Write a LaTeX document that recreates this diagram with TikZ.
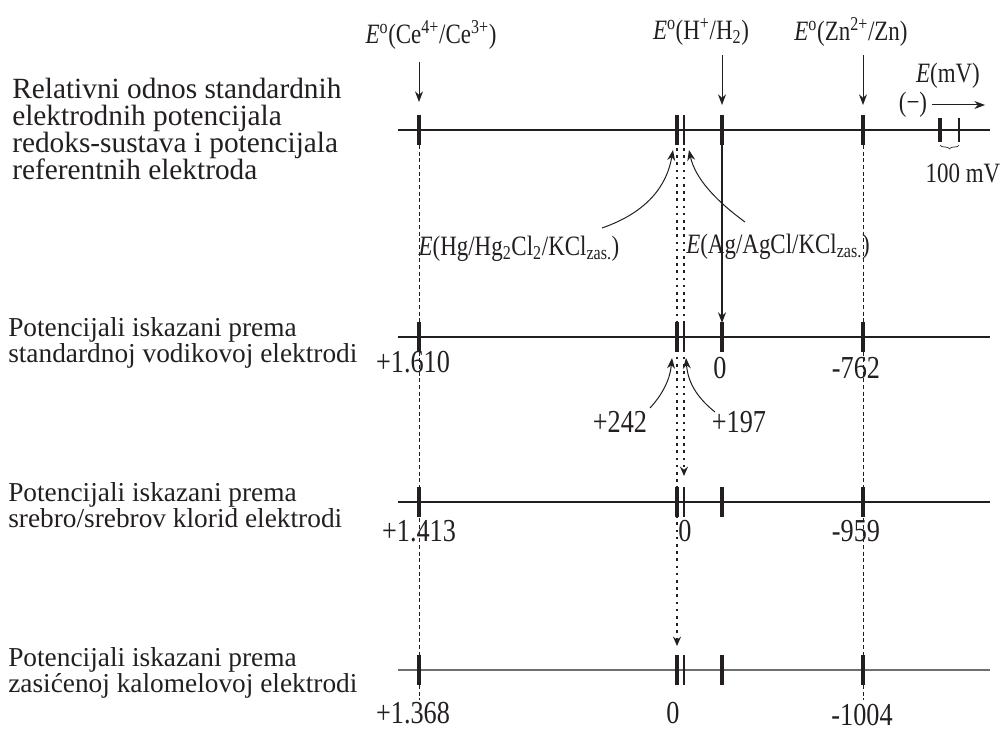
\documentclass[tikz,border=0pt]{standalone}
\usepackage{fontspec}
\setmainfont{Liberation Serif}
\newfontfamily\narrowfont[FakeStretch=0.82]{Liberation Serif}
\usepackage{xcolor}
\usetikzlibrary{positioning, arrows.meta, calc, decorations.pathreplacing}
\definecolor{inkdark}{HTML}{231F20}
\definecolor{axisgray}{HTML}{6D6E70}

\begin{document}
\begin{tikzpicture}[x=0.75pt, y=-0.75pt,
    axis/.style={line width=1.6pt},
    tick/.style={line width=2.8pt, draw=inkdark},
    thintick/.style={line width=1.7pt, draw=inkdark},
    guide/.style={draw=inkdark, line width=0.6pt, dash pattern=on 3pt off 2pt},
    dotline/.style={draw=inkdark, line width=2pt, dash pattern=on 2pt off 3.4pt,
                    -{Stealth[length=7pt, width=6pt]}},
    pointer/.style={draw=inkdark, line width=0.75pt, -{Stealth[length=8pt, width=6pt]}},
    rowtext/.style={anchor=west, align=left, inner sep=0pt, text=inkdark,
                    font=\fontsize{20.5}{19.5}\selectfont},
    lab/.style={inner sep=0pt, text=inkdark, font=\narrowfont\fontsize{21}{21}\selectfont},
    num/.style={inner sep=0pt, text=inkdark, font=\narrowfont\fontsize{24}{24}\selectfont}]

  \useasboundingbox (0,0) rectangle (1003,731);

  \foreach \row/\y/\c in {1/130/inkdark, 2/337/inkdark, 3/502/inkdark, 4/670/axisgray}{
    \coordinate (ce\row) at (419,\y);
    \coordinate (hg\row) at (677,\y);
    \coordinate (ag\row) at (684,\y);
    \coordinate (h\row)  at (722,\y);
    \coordinate (zn\row) at (863,\y);
    \draw[axis, draw=\c] (398,\y) -- (990,\y);
    \foreach \p in {ce,hg,h,zn}
      \draw[tick] ($(\p\row)+(0,-15)$) -- ($(\p\row)+(0,15)$);
    \draw[thintick] ($(ag\row)+(0,-15)$) -- ($(ag\row)+(0,15)$);
  }

  \node[rowtext, font=\fontsize{22}{20.2}\selectfont] (relnote) at (12,129) {Relativni odnos standardnih\\elektrodnih potencijala\\redoks-sustava i potencijala\\referentnih elektroda};
  \node[rowtext] (shenote) at (8,343) {Potencijali iskazani prema\\standardnoj vodikovoj elektrodi};
  \node[rowtext] (agnote)  at (8,505) {Potencijali iskazani prema\\srebro/srebrov klorid elektrodi};
  \node[rowtext] (scenote) at (8,673) {Potencijali iskazani prema\\zasićenoj kalomelovoj elektrodi};

  \node[lab] (celab) at (431,35) {\textit{E}\textsuperscript{o}(Ce\textsuperscript{4+}/Ce\textsuperscript{3+})};
  \node[lab] (hlab)  at (701,32) {\textit{E}\textsuperscript{o}(H\textsuperscript{+}/H\textsubscript{2})};
  \node[lab] (znlab) at (851,32) {\textit{E}\textsuperscript{o}(Zn\textsuperscript{2+}/Zn)};
  \draw[pointer] ($(ce1)+(0,-68)$) -- ($(ce1)+(0,-28)$);
  \draw[pointer] ($(h1)+(0,-75)$) -- ($(h1)+(0,-25)$);
  \draw[pointer] ($(zn1)+(0,-75)$) -- ($(zn1)+(0,-25)$);

  \node[lab] (emv) at (948,76) {\textit{E}(mV)};
  \node[lab] (minus) at (913,105) {(−)};
  \coordinate (emvend) at (985,105);
  \draw[pointer] ($(minus.east)+(5,0)$) -- (emvend);
  \coordinate (sca) at (940,130);
  \coordinate (scb) at (959,130);
  \draw[tick] ($(sca)+(0,-12)$) -- ($(sca)+(0,12)$);
  \draw[thintick] ($(scb)+(0,-12)$) -- ($(scb)+(0,12)$);
  \draw[draw=inkdark, line width=0.5pt, decorate, decoration={brace, mirror, amplitude=3pt}]
    ($(sca)+(0,15)$) -- ($(scb)+(0,15)$);
  \node[lab] (scale) at (963,173) {100 mV};

  \draw[guide] ($(ce1)+(0,15)$) -- (419,700);
  \draw[guide] ($(zn1)+(0,15)$) -- (863,700);
  \draw[dotline] ($(hg1)+(0,18)$) -- ($(hg4)+(0,-24)$);
  \draw[dotline] ($(ag1)+(0,18)$) -- ($(ag3)+(0,-26)$);
  \draw[pointer, line width=1pt] ($(h1)+(0,15)$) -- ($(h2)+(0,-14)$);

  \node[lab] (hglab) at (519,249) {\textit{E}(Hg/Hg\textsubscript{2}Cl\textsubscript{2}/KCl\textsubscript{zas.})};
  \node[lab] (aglab) at (778,247) {\textit{E}(Ag/AgCl/KCl\textsubscript{zas.})};
  \draw[pointer] (602,228) .. controls (648,212) and (667,185) .. ($(hg1)+(-4,20)$);
  \draw[pointer] (745,222) .. controls (715,200) and (695,178) .. ($(ag1)+(5,20)$);

  \node[num] at (413,362) {+1.610};
  \node[num] at (720,368) {0};
  \node[num] at (856,368) {-762};
  \node[num] (p242) at (620,422) {+242};
  \node[num] (p197) at (739,422) {+197};
  \draw[pointer] (650,408) .. controls (662,395) and (670,380) .. ($(hg2)+(-5,21)$);
  \draw[pointer] (715,412) .. controls (700,400) and (688,385) .. ($(ag2)+(2,21)$);

  \node[num] at (419,531) {+1.413};
  \node[num] at (685,531) {0};
  \node[num] at (856,531) {-959};

  \node[num] at (413,713) {+1.368};
  \node[num] at (673,713) {0};
  \node[num] at (862,715) {-1004};
\end{tikzpicture}
\end{document}
